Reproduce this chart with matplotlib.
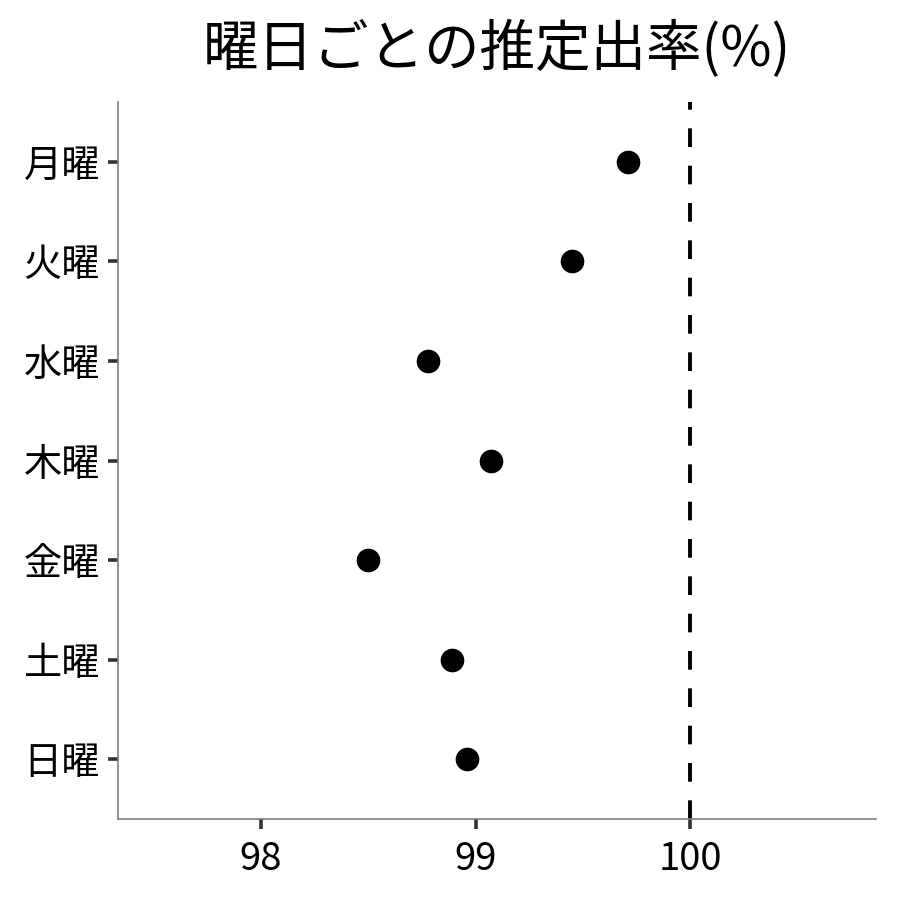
import numpy as np
import matplotlib
matplotlib.use("Agg")
import matplotlib.pyplot as plt

plt.rcParams['font.family'] = ['Noto Sans CJK JP', 'DejaVu Sans']

days = ['月曜', '火曜', '水曜', '木曜', '金曜', '土曜', '日曜']
rate = [99.71, 99.45, 98.78, 99.07, 98.50, 98.89, 98.96]
x_ticks = [98, 99, 100]
ref_line = 100


def main():
    fig = plt.figure(figsize=(9, 9), dpi=100)
    ax = fig.add_axes([118 / 900, 1 - 819 / 900, (876 - 118) / 900, (819 - 102) / 900])

    pos = np.arange(len(days))[::-1] + 1
    ax.scatter(rate, pos, s=290, color='black', zorder=3, linewidths=0)
    ax.axvline(ref_line, color='black', lw=2.8, dashes=(4.8, 4.8))

    ax.set_xlim(97.333, 100.867)
    ax.set_ylim(0.4, 7.6)
    ax.set_xticks(x_ticks)
    ax.set_xticklabels([str(t) for t in x_ticks])
    ax.set_yticks(pos)
    ax.set_yticklabels(days)

    for s in ['top', 'right']:
        ax.spines[s].set_visible(False)
    for s in ['left', 'bottom']:
        ax.spines[s].set_color('#7f7f7f')
        ax.spines[s].set_linewidth(1.2)
    ax.tick_params(axis='both', length=7, width=2.6, color='#333333',
                   labelsize=27.5, labelcolor='black', pad=6)
    ax.tick_params(axis='x', pad=8)

    ax.set_title('曜日ごとの推定出率(%)', fontsize=40, pad=26)

    fig.savefig('out.png', dpi=100, facecolor='white')


if __name__ == "__main__":
    main()
